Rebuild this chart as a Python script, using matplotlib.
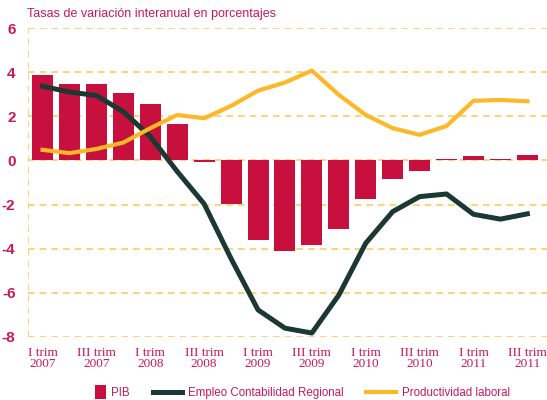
import matplotlib
matplotlib.use("Agg")
import matplotlib.pyplot as plt
from matplotlib.lines import Line2D
from matplotlib.patches import Patch, Rectangle
from matplotlib.legend_handler import HandlerPatch
import numpy as np

# quarters 2007Q1 .. 2011Q3
quarters = ["I trim\n2007", "II trim\n2007", "III trim\n2007", "IV trim\n2007",
            "I trim\n2008", "II trim\n2008", "III trim\n2008", "IV trim\n2008",
            "I trim\n2009", "II trim\n2009", "III trim\n2009", "IV trim\n2009",
            "I trim\n2010", "II trim\n2010", "III trim\n2010", "IV trim\n2010",
            "I trim\n2011", "II trim\n2011", "III trim\n2011"]

pib = [3.87, 3.47, 3.47, 3.06, 2.56, 1.65, -0.05, -1.97, -3.62, -4.1,
       -3.83, -3.12, -1.74, -0.84, -0.5, 0.05, 0.22, 0.07, 0.25]
empleo = [3.36, 3.1, 2.94, 2.21, 1.08, -0.5, -1.97, -4.45, -6.77, -7.6,
          -7.82, -6.1, -3.75, -2.32, -1.64, -1.52, -2.44, -2.66, -2.42]
productividad = [0.48, 0.33, 0.52, 0.81, 1.46, 2.06, 1.91, 2.47, 3.16, 3.53,
                 4.07, 2.97, 2.06, 1.46, 1.16, 1.56, 2.7, 2.74, 2.68]

red = "#C8103E"
dark = "#1B3833"
yellow = "#FDB827"
grid_col = "#FDCB65"
label_col = "#C8185A"


class SquareHandler(HandlerPatch):
    # narrow box for the bar entry, lines keep the full handle length
    def create_artists(self, legend, orig_handle, xdescent, ydescent,
                       width, height, fontsize, trans):
        w = height * 1.3
        r = Rectangle((width - w - xdescent, -ydescent - 2), w, height + 4,
                      facecolor=orig_handle.get_facecolor(), transform=trans)
        return [r]


fig = plt.figure(figsize=(5.47, 4.0), dpi=100)
ax = fig.add_axes([28 / 547, 1 - 337 / 400, 1 - 28 / 547, (337 - 28) / 400])

x = np.arange(len(quarters))
ax.bar(x, pib, width=0.78, color=red, zorder=2)
ax.plot(x, empleo, color=dark, lw=3.6, zorder=3)
ax.plot(x, productividad, color=yellow, lw=3.0, zorder=3)

ax.set_xlim(-0.54, 18.73)
ax.set_ylim(-8, 6)

for yv in range(-8, 7, 2):
    ax.axhline(yv, color=grid_col, lw=1.2, ls=(0, (4, 3)), zorder=1)
ax.axvline(-0.54, color=grid_col, lw=1.2, ls=(0, (4, 3)), zorder=1)

for s in ax.spines.values():
    s.set_visible(False)

ax.set_yticks(range(-8, 7, 2))
ax.set_yticklabels([str(v) for v in range(-8, 7, 2)], color=label_col,
                   fontweight="bold", fontsize=11, fontfamily="Liberation Sans")
ax.tick_params(axis="y", length=0, pad=9)

ax.set_xticks(x[::2])
ax.set_xticklabels(quarters[::2], color=label_col, fontsize=9.5,
                   fontfamily="Liberation Serif", linespacing=0.95)
ax.tick_params(axis="x", length=0, pad=7)

fig.text(27 / 547, 1 - 14 / 400, "Tasas de variación interanual en porcentajes",
         color=label_col, fontsize=9, fontfamily="Liberation Sans", va="center")

handles = [Patch(color=red, label="PIB"),
           Line2D([], [], color=dark, lw=3.6, label="Empleo Contabilidad Regional"),
           Line2D([], [], color=yellow, lw=3.0, label="Productividad laboral")]
leg = fig.legend(handles=handles, loc="center", bbox_to_anchor=(0.535, 1 - 393 / 400),
                 ncol=3, frameon=False, handlelength=2.6,
                 columnspacing=2.0, handletextpad=0.45,
                 handler_map={Patch: SquareHandler()},
                 prop={"family": "Liberation Sans", "size": 8.3})
for t in leg.get_texts():
    t.set_color(label_col)

fig.savefig("out.png", dpi=100)
